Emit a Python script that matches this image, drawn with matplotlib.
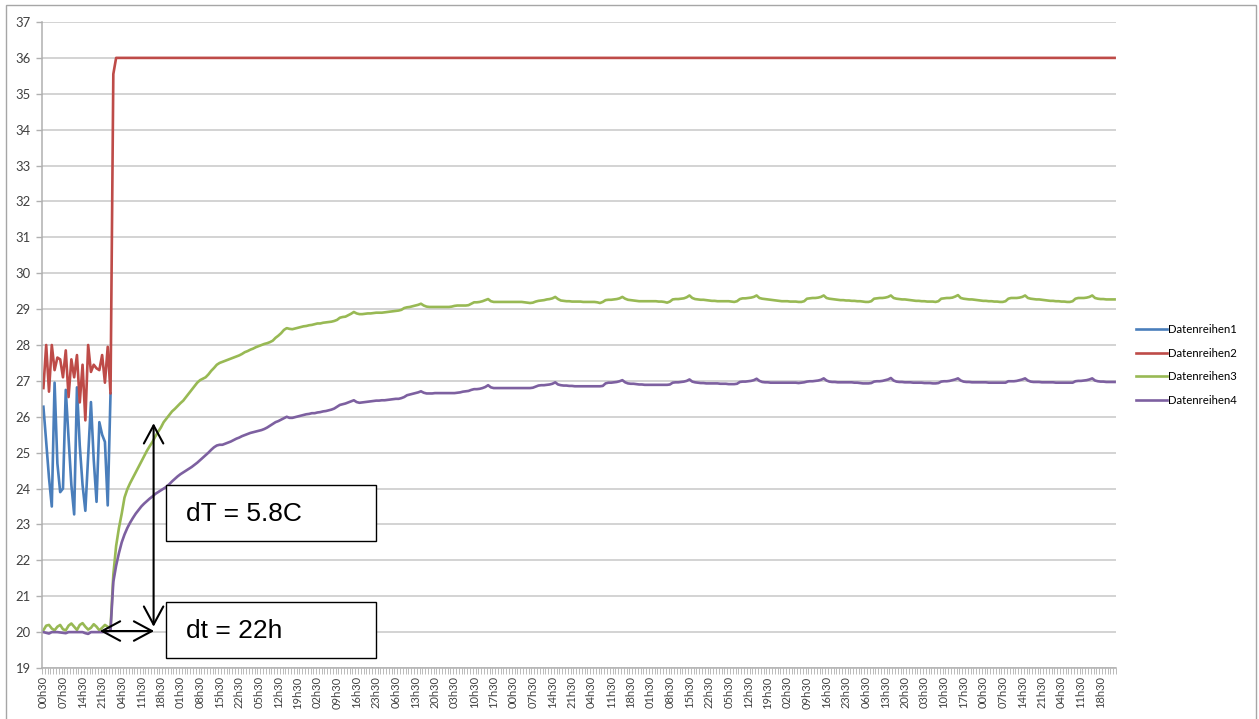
import numpy as np
import matplotlib.pyplot as plt
from matplotlib.patches import Rectangle

W, H = 1259, 719

# hourly readings, first one taken at 00h30
blue = [26.28, 25.3, 24.3, 23.5, 26.95, 24.7, 23.9, 24.0, 26.75, 25.4, 24.1, 23.28,
        26.82, 25.2, 24.1, 23.38, 24.9, 26.41, 24.8, 23.63, 25.85, 25.5, 25.3, 23.53, 26.65]

red_start = [26.8, 28.0, 26.7, 28.0, 27.3, 27.65, 27.6, 27.1, 27.85, 26.55, 27.6, 27.1,
             27.72, 26.4, 27.45, 25.9, 28.0, 27.25, 27.45, 27.35, 27.3, 27.72, 26.95, 27.95,
             26.65, 35.55]
red_plateau = 36.0
red = red_start + [red_plateau] * 358

green = [
    20.05, 20.18, 20.2, 20.1, 20.05, 20.15, 20.2, 20.08, 20.05, 20.18, 20.24, 20.15,
    20.06, 20.2, 20.25, 20.15, 20.07, 20.12, 20.22, 20.15, 20.05, 20.12, 20.2, 20.15,
    20.1, 21.6, 22.4, 22.9, 23.3, 23.75, 23.98, 24.15, 24.3, 24.45, 24.6, 24.75,
    24.9, 25.05, 25.18, 25.3, 25.45, 25.58, 25.7, 25.85, 25.95, 26.05, 26.15, 26.22,
    26.3, 26.38, 26.45, 26.55, 26.65, 26.75, 26.85, 26.95, 27.02, 27.06, 27.1, 27.18,
    27.28, 27.36, 27.45, 27.5, 27.53, 27.56, 27.59, 27.62, 27.65, 27.68, 27.71, 27.75,
    27.8, 27.83, 27.87, 27.9, 27.94, 27.97, 28.0, 28.03, 28.05, 28.08, 28.12, 28.2,
    28.26, 28.33, 28.42, 28.47, 28.45, 28.44, 28.46, 28.48, 28.5, 28.52, 28.53, 28.55,
    28.56, 28.58, 28.6, 28.6, 28.62, 28.63, 28.64, 28.65, 28.67, 28.7, 28.76, 28.78,
    28.79, 28.83, 28.87, 28.92, 28.88, 28.86, 28.86, 28.87, 28.88, 28.88, 28.89, 28.9,
    28.9, 28.9, 28.91, 28.92, 28.93, 28.94, 28.95, 28.96, 28.98, 29.03, 29.05, 29.06,
    29.08, 29.1, 29.12, 29.15, 29.1, 29.07, 29.06, 29.06, 29.06, 29.06, 29.06, 29.06,
    29.06, 29.06, 29.07, 29.09, 29.1, 29.1, 29.1, 29.1, 29.11, 29.15, 29.19, 29.19,
    29.2, 29.22, 29.25, 29.28, 29.22, 29.2, 29.2, 29.2, 29.2, 29.2, 29.2, 29.2,
    29.2, 29.2, 29.2, 29.2, 29.19, 29.18, 29.17, 29.18, 29.21, 29.23, 29.24, 29.25,
    29.27, 29.28, 29.3, 29.34, 29.28, 29.24, 29.23, 29.22, 29.22, 29.21, 29.21, 29.21,
    29.21, 29.2, 29.2, 29.2, 29.2, 29.2, 29.19, 29.17, 29.2, 29.25, 29.26, 29.26,
    29.27, 29.28, 29.3, 29.34, 29.29, 29.26, 29.25, 29.24, 29.23, 29.22, 29.22, 29.22,
    29.22, 29.22, 29.22, 29.22, 29.21, 29.21, 29.2, 29.18, 29.21, 29.27, 29.28, 29.28,
    29.29, 29.3, 29.33, 29.38, 29.31, 29.28, 29.27, 29.26, 29.26, 29.25, 29.24, 29.23,
    29.23, 29.22, 29.22, 29.22, 29.22, 29.22, 29.21, 29.2, 29.22, 29.28, 29.3, 29.3,
    29.31, 29.32, 29.34, 29.38, 29.31, 29.29, 29.28, 29.27, 29.26, 29.25, 29.24, 29.23,
    29.22, 29.22, 29.22, 29.21, 29.21, 29.21, 29.2, 29.2, 29.22, 29.29, 29.3, 29.31,
    29.31, 29.32, 29.34, 29.38, 29.31, 29.29, 29.28, 29.27, 29.26, 29.25, 29.25, 29.24,
    29.24, 29.23, 29.23, 29.22, 29.22, 29.21, 29.2, 29.2, 29.22, 29.29, 29.3, 29.31,
    29.31, 29.32, 29.34, 29.38, 29.31, 29.29, 29.28, 29.27, 29.27, 29.26, 29.25, 29.24,
    29.23, 29.23, 29.22, 29.22, 29.21, 29.21, 29.21, 29.2, 29.22, 29.29, 29.3, 29.31,
    29.31, 29.32, 29.35, 29.39, 29.31, 29.29, 29.28, 29.27, 29.27, 29.26, 29.25, 29.24,
    29.23, 29.23, 29.22, 29.22, 29.21, 29.21, 29.2, 29.2, 29.22, 29.29, 29.31, 29.31,
    29.31, 29.32, 29.34, 29.38, 29.31, 29.29, 29.28, 29.27, 29.27, 29.26, 29.25, 29.24,
    29.23, 29.23, 29.22, 29.22, 29.21, 29.21, 29.2, 29.2, 29.22, 29.29, 29.31, 29.31,
    29.31, 29.32, 29.34, 29.38, 29.31, 29.29, 29.28, 29.28, 29.27, 29.27, 29.27, 29.27,
]

purple = [
    20.0, 19.98, 19.96, 20.0, 20.0, 20.0, 19.99, 19.98, 19.97, 20.0, 20.0, 20.0,
    20.0, 20.0, 20.0, 19.97, 19.95, 20.0, 20.0, 20.0, 20.0, 20.0, 20.01, 20.02,
    20.05, 21.4, 21.85, 22.2, 22.5, 22.72, 22.9, 23.05, 23.18, 23.3, 23.4, 23.5,
    23.58, 23.65, 23.72, 23.78, 23.85, 23.9, 23.95, 24.0, 24.05, 24.12, 24.2, 24.27,
    24.34, 24.4, 24.45, 24.5, 24.55, 24.6, 24.66, 24.72, 24.79, 24.86, 24.93, 25.0,
    25.08, 25.15, 25.2, 25.22, 25.22, 25.25, 25.28, 25.31, 25.35, 25.39, 25.42, 25.46,
    25.49, 25.52, 25.55, 25.57, 25.59, 25.61, 25.63, 25.66, 25.7, 25.75, 25.8, 25.85,
    25.88, 25.92, 25.96, 26.0, 25.97, 25.97, 25.99, 26.01, 26.03, 26.05, 26.07, 26.08,
    26.1, 26.1, 26.12, 26.13, 26.15, 26.16, 26.18, 26.2, 26.23, 26.28, 26.33, 26.35,
    26.37, 26.4, 26.43, 26.46, 26.41, 26.39, 26.4, 26.41, 26.42, 26.43, 26.44, 26.45,
    26.45, 26.46, 26.46, 26.47, 26.48, 26.49, 26.5, 26.5, 26.52, 26.55, 26.6, 26.62,
    26.64, 26.66, 26.68, 26.71, 26.67, 26.65, 26.65, 26.65, 26.66, 26.66, 26.66, 26.66,
    26.66, 26.66, 26.66, 26.66, 26.67, 26.68, 26.7, 26.71, 26.72, 26.75, 26.77, 26.77,
    26.78, 26.8, 26.83, 26.88, 26.82, 26.8, 26.8, 26.8, 26.8, 26.8, 26.8, 26.8,
    26.8, 26.8, 26.8, 26.8, 26.8, 26.8, 26.8, 26.81, 26.84, 26.87, 26.88, 26.88,
    26.89, 26.9, 26.92, 26.96, 26.9, 26.88, 26.87, 26.87, 26.86, 26.86, 26.85, 26.85,
    26.85, 26.85, 26.85, 26.85, 26.85, 26.85, 26.85, 26.85, 26.86, 26.93, 26.95, 26.95,
    26.96, 26.97, 26.99, 27.02, 26.96, 26.93, 26.92, 26.92, 26.91, 26.9, 26.9, 26.89,
    26.89, 26.89, 26.89, 26.89, 26.89, 26.89, 26.89, 26.89, 26.9, 26.95, 26.96, 26.96,
    26.97, 26.98, 27.0, 27.04, 26.98, 26.96, 26.95, 26.94, 26.94, 26.93, 26.93, 26.93,
    26.93, 26.93, 26.92, 26.92, 26.92, 26.91, 26.91, 26.91, 26.92, 26.97, 26.98, 26.98,
    26.99, 27.0, 27.02, 27.06, 27.0, 26.97, 26.96, 26.96, 26.95, 26.95, 26.95, 26.95,
    26.95, 26.95, 26.95, 26.95, 26.95, 26.95, 26.94, 26.95, 26.96, 26.98, 26.99, 26.99,
    27.0, 27.01, 27.03, 27.07, 27.01, 26.98, 26.97, 26.97, 26.96, 26.96, 26.96, 26.96,
    26.96, 26.96, 26.95, 26.95, 26.94, 26.93, 26.93, 26.93, 26.94, 26.98, 26.99, 26.99,
    27.0, 27.02, 27.04, 27.08, 27.01, 26.98, 26.97, 26.97, 26.96, 26.96, 26.96, 26.95,
    26.95, 26.95, 26.95, 26.94, 26.94, 26.94, 26.93, 26.93, 26.94, 26.98, 26.99, 26.99,
    27.0, 27.02, 27.04, 27.07, 27.01, 26.98, 26.97, 26.97, 26.96, 26.96, 26.96, 26.96,
    26.96, 26.96, 26.95, 26.95, 26.95, 26.95, 26.95, 26.95, 26.95, 26.99, 26.99, 26.99,
    27.0, 27.02, 27.04, 27.07, 27.01, 26.98, 26.97, 26.97, 26.97, 26.96, 26.96, 26.96,
    26.96, 26.96, 26.95, 26.95, 26.95, 26.95, 26.95, 26.95, 26.95, 26.99, 27.0, 27.0,
    27.01, 27.02, 27.04, 27.07, 27.01, 26.99, 26.98, 26.98, 26.97, 26.97, 26.97, 26.97,
]

week_labels = ("00h30 07h30 14h30 21h30 04h30 11h30 18h30 01h30 08h30 15h30 22h30 05h30 "
               "12h30 19h30 02h30 09h30 16h30 23h30 06h30 13h30 20h30 03h30 10h30 17h30").split()
x_labels = (week_labels * 3)[:55]
series_names = ['Datenreihen1', 'Datenreihen2', 'Datenreihen3', 'Datenreihen4']
colors = ['#4a7ebb', '#be4b48', '#98b954', '#7d60a0']

plt.rcParams['font.family'] = ['Lato', 'DejaVu Sans']

n = len(green)
x = np.arange(n)

fig = plt.figure(figsize=(W / 100, H / 100), dpi=100)
ax = fig.add_axes([42 / W, 1 - 668 / H, (1116 - 42) / W, (668 - 22) / H])

for vals, c, name in zip([blue, red, green, purple], colors, series_names):
    ax.plot(x[:len(vals)], vals, color=c, lw=1.9, label=name, solid_joinstyle='round')

ax.set_xlim(-0.5, n - 0.5)
ax.set_ylim(19, 37)
ax.set_yticks(np.arange(19, 38, 1))
ax.grid(axis='y', color='#c8c8c8', lw=1.1)
ax.set_axisbelow(True)

ax.set_xticks(x[::7][:len(x_labels)])
ax.set_xticklabels(x_labels, rotation=90, fontsize=8, color='#404040')
ax.set_xticks(np.arange(-0.5, n, 1), minor=True)
ax.tick_params(axis='x', which='major', length=0, pad=6)
ax.tick_params(axis='x', which='minor', length=4, width=0.5, color='#a0a0a0', direction='out')
ax.tick_params(axis='y', length=4, width=1, color='#b0b0b0', labelsize=9.4, labelcolor='#404040', pad=4)
for s in ['top', 'right']:
    ax.spines[s].set_visible(False)
for s in ['left', 'bottom']:
    ax.spines[s].set_color('#b0b0b0')
    ax.spines[s].set_linewidth(1.1)

leg = fig.legend(loc='center left', bbox_to_anchor=(1136 / W, 1 - 365 / H), frameon=False,
                 fontsize=8.2, handlelength=2.7, handletextpad=0.1, labelspacing=1.1,
                 borderpad=0, borderaxespad=0)

# chart border
fig.add_artist(Rectangle((6 / W, -0.05), 1250 / W, 1.05 - 5 / H, transform=fig.transFigure,
                         fill=False, ec='#a6a6a6', lw=1))

# measurement arrows
head = '<->,head_length=0.65,head_width=0.35'
ax.annotate('', xy=(39.4, 25.82), xytext=(39.4, 20.15),
            arrowprops=dict(arrowstyle=head, mutation_scale=20, lw=1.5, color='black',
                            shrinkA=0, shrinkB=0))
ax.annotate('', xy=(20.2, 20.03), xytext=(39.6, 20.03),
            arrowprops=dict(arrowstyle=head, mutation_scale=20, lw=1.5, color='black',
                            shrinkA=0, shrinkB=0))

for top, txt in [(485, 'dT = 5.8C'), (602, 'dt = 22h')]:
    fig.add_artist(Rectangle((166 / W, 1 - (top + 56) / H), 210 / W, 56 / H,
                             transform=fig.transFigure, fc='white', ec='black', lw=1, zorder=5))
    fig.text(186 / W, 1 - (top + 29) / H, txt, fontsize=19, va='center', ha='left',
             family='Liberation Sans', zorder=6)

fig.savefig('out.png', dpi=100)
